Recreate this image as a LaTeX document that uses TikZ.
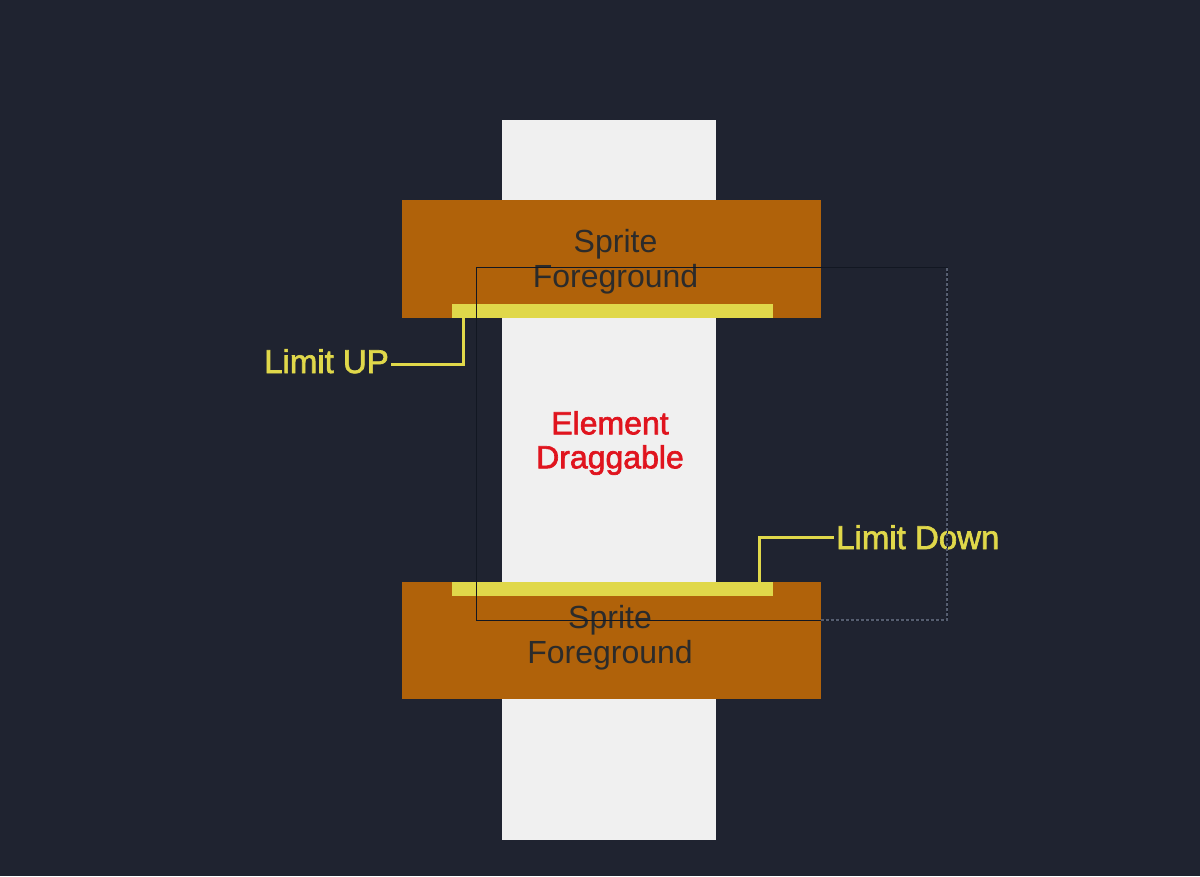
\documentclass[tikz,border=0pt]{standalone}
\usepackage{fontspec}
\setmainfont{Liberation Sans}
\newfontfamily\medfont[FakeBold=2]{Liberation Sans}
\definecolor{bg}{HTML}{1F2330}
\definecolor{column}{HTML}{F0F0F0}
\definecolor{sprite}{HTML}{B0620A}
\definecolor{limit}{HTML}{E0D84A}
\definecolor{spritetext}{HTML}{2B2B2B}
\definecolor{elemred}{HTML}{E0141E}
\definecolor{frameline}{HTML}{121722}
\definecolor{framedash}{HTML}{565E70}
\tikzset{
  block/.style={fill=#1, draw=none},
  spritelabel/.style={align=center, inner sep=0pt, text=spritetext, font=\fontsize{32}{35}\selectfont},
  elemlabel/.style={align=center, inner sep=0pt, text=elemred, font=\medfont\fontsize{32}{34}\selectfont},
  limitlabel/.style={inner sep=0pt, text=limit, font=\medfont\fontsize{33}{36}\selectfont},
  connector/.style={draw=limit, line width=3pt},
  framesolid/.style={draw=frameline, line width=1pt},
  framedashed/.style={draw=framedash, line width=1.2pt, dash pattern=on 3pt off 2pt}
}
\begin{document}
\begin{tikzpicture}[x=1pt,y=-1pt]
\fill[bg] (0,0) rectangle (1200,876);
\useasboundingbox (0,0) rectangle (1200,876);
% draggable column
\path[block=column] (502,120) rectangle (716,840);
% sprites
\path[block=sprite] (402,200) rectangle (821,318);
\path[block=sprite] (402,582) rectangle (821,699);
% limit bars
\path[block=limit] (452,304) rectangle (773,318);
\path[block=limit] (452,582) rectangle (773,596);
% texts
\node[spritelabel] (sprtop) at (615.5,262) {Sprite\\Foreground};
\node[spritelabel] (sprbot) at (610,638) {Sprite\\Foreground};
\node[elemlabel] (elem) at (610,443) {Element\\Draggable};
\node[limitlabel, anchor=base west] (limup) at (264,373) {Limit UP};
\node[limitlabel, anchor=base west] (limdown) at (836,549) {Limit Down};
% connectors
\coordinate (upjoin) at (463,317);
\coordinate (downjoin) at (759,583);
\draw[connector] (upjoin) |- ([xshift=2pt,yshift=-3pt]limup.east);
\draw[connector] (downjoin) |- ([xshift=-2pt]limdown.west);
% drag frame
\coordinate (fnw) at (476,267);
\coordinate (fse) at (947,620);
\coordinate (fedge) at (821,620);
\draw[framesolid] (fnw) rectangle (fse);
\draw[framedashed] (fedge) -| (fse |- fnw);
\end{tikzpicture}
\end{document}
